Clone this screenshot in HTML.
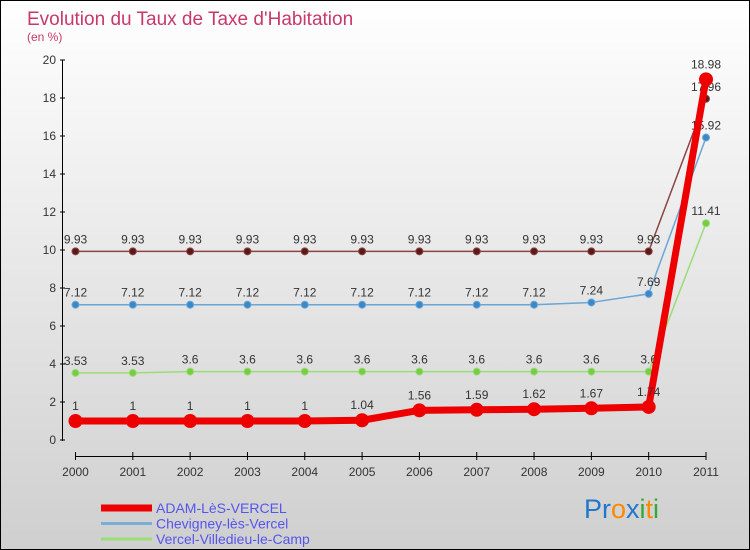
<!DOCTYPE html>
<html><head><meta charset="utf-8"><style>
body{margin:0;}
#wrap{position:relative;width:748px;height:548px;border:1px solid #000;background:linear-gradient(#ffffff,#cfcfcf);font-family:"Liberation Sans",sans-serif;overflow:hidden;}
</style></head><body>
<div id="wrap">
<svg id="chart" width="748" height="548"></svg>
</div>
<script>
const years=["2000","2001","2002","2003","2004","2005","2006","2007","2008","2009","2010","2011"];
const adam=[1,1,1,1,1,1.04,1.56,1.59,1.62,1.67,1.74,18.98];
const chev=[7.12,7.12,7.12,7.12,7.12,7.12,7.12,7.12,7.12,7.24,7.69,15.92];
const verc=[3.53,3.53,3.6,3.6,3.6,3.6,3.6,3.6,3.6,3.6,3.6,11.41];
const longe=[9.93,9.93,9.93,9.93,9.93,9.93,9.93,9.93,9.93,9.93,9.93,17.96];
const yTicks=[0,2,4,6,8,10,12,14,16,18,20];
const NS="http://www.w3.org/2000/svg";
const svg=document.getElementById('chart');
const x=i=>74.5+i*(705-74.5)/11;
const y=v=>439-v*19;
function mk(t,a,p){const e=document.createElementNS(NS,t);for(const k in a)e.setAttribute(k,a[k]);(p||svg).appendChild(e);return e;}
function txt(s,a){const e=mk('text',a);e.textContent=s;return e;}
let t=txt("Evolution du Taux de Taxe d'Habitation",{x:26,y:24,'font-size':19,fill:'#c8386a'});

t=txt("(en %)",{x:26,y:40,'font-size':12,fill:'#c8386a'});

// y axis
let ax=mk('line',{x1:61.5,y1:59,x2:61.5,y2:440,stroke:'#000'});

yTicks.forEach(v=>{mk('line',{x1:59,x2:64,y1:y(v),y2:y(v),stroke:'#000'});
 const l=txt(String(v),{x:55,y:y(v)+4,'font-size':12,'text-anchor':'end',fill:'#333'});
 });
// x axis
ax=mk('line',{x1:x(0),y1:455.5,x2:x(11),y2:455.5,stroke:'#000'});

years.forEach((yr,i)=>{mk('line',{x1:x(i),x2:x(i),y1:451,y2:459,stroke:'#000'});
 const l=txt(yr,{x:x(i),y:475,'font-size':12,'text-anchor':'middle',fill:'#333'});
 });
function series(vals,color,dot,w,r,name,labelDy){
 const g=mk('g',{});
 mk('polyline',{points:vals.map((v,i)=>x(i)+','+y(v)).join(' '),fill:'none',stroke:color,'stroke-width':w,'stroke-linejoin':'round'},g);
 vals.forEach((v,i)=>{const c=mk('circle',{cx:x(i),cy:y(v),r:r,fill:dot,stroke:color,'stroke-width':1},g);
  
  const l=txt(String(v),{x:x(i),y:y(v)-labelDy,'font-size':12,'text-anchor':'middle',fill:'#333'});
  });
}
series(verc,'#99dd77','#77cc44',1.5,3.5,'series-vercel',8);
series(chev,'#6aa6d6','#3a88c8',1.5,3.5,'series-chevigney',8);
series(longe,'#8a4444','#5a1a1a',1.5,3.5,'series-longechaux',8);
series(adam,'#ee0000','#ee0000',7,6.5,'series-adam',11);
// legend
const leg=[['ADAM-LèS-VERCEL','#ee0000',7],['Chevigney-lès-Vercel','#7aaed6',3],['Vercel-Villedieu-le-Camp','#99dd77',3],['Longechaux','#9a5555',3]];
leg.forEach((d,i)=>{const g=mk('g',{});
 const yy=512+i*15.5;
 mk('line',{x1:100,x2:151,y1:yy-5,y2:yy-5,stroke:d[1],'stroke-width':d[2]},g);
 const l=txt(d[0],{x:155,y:yy,'font-size':14,fill:'#5555ee'});g.appendChild(l);});
// logo
const lg=mk('text',{x:583,y:517,'font-size':27,'font-family':'Liberation Sans, sans-serif'});

[['Pr','#2277cc'],['o','#ff8800'],['x','#2277cc'],['i','#33aa33'],['t','#ff8800'],['i','#33aa33']].forEach(p=>{const s=mk('tspan',{fill:p[1]},lg);s.textContent=p[0];});
</script>
</body></html>
